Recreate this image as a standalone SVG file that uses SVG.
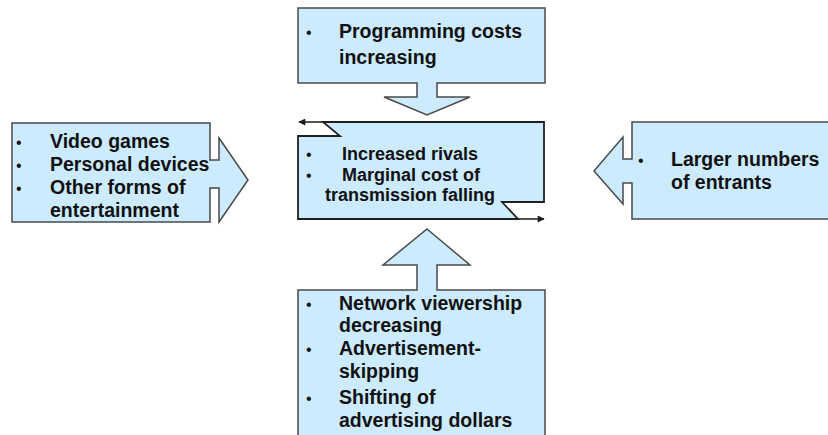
<svg xmlns="http://www.w3.org/2000/svg" width="828" height="435" viewBox="0 0 828 435">
  <defs>
    <marker id="tip" viewBox="0 0 10 10" refX="9" refY="5" markerWidth="8" markerHeight="7" markerUnits="userSpaceOnUse" orient="auto">
      <path d="M0,0 L10,5 L0,10 Z" fill="#1a1a1a"/>
    </marker>
  </defs>
  <style>
    .shape { fill: #CCEBFF; stroke: #4a4a4a; stroke-width: 1.5; stroke-linejoin: miter; }
    .core { fill: #CCEBFF; stroke: #1f1f1f; stroke-width: 1.8; }
    .txt { font-family: "Liberation Sans", Arial, sans-serif; font-weight: bold; font-size: 19.5px; fill: #111111; }
    .mid { font-size: 18px; text-anchor: middle; }
    .dot { font-family: "Liberation Sans", Arial, sans-serif; font-size: 16px; fill: #111111; }
    .link { fill: none; stroke: #1a1a1a; stroke-width: 1.5; }
  </style>
  <rect width="828" height="435" fill="#ffffff"/>

  <!-- upper driver, pointing down -->
  <g id="programming">
    <path class="shape" d="M298,8 H545 V83 H437 V97 H470 L427,115 L384,97 H417 V83 H298 Z"/>
    <text class="dot" x="306" y="38">•</text>
    <text class="txt" x="339" y="38">Programming costs</text>
    <text class="txt" x="339" y="64">increasing</text>
  </g>

  <!-- left driver, pointing right -->
  <g id="substitutes">
    <path class="shape" d="M12,123 H210 V160 H219 V138 L248,180 L219,222 V188 H210 V222 H12 Z"/>
    <text class="dot" x="16" y="148">•</text>
    <text class="txt" x="50" y="148">Video games</text>
    <text class="dot" x="16" y="171">•</text>
    <text class="txt" x="50" y="171">Personal devices</text>
    <text class="dot" x="16" y="194">•</text>
    <text class="txt" x="50" y="194">Other forms of</text>
    <text class="txt" x="50" y="217">entertainment</text>
  </g>

  <!-- central rivalry box -->
  <g id="rivalry">
    <path class="core" d="M323,122 H544 V202 H502 L518,219 H298 V136 H340 Z"/>
    <text class="dot" x="306" y="160">•</text>
    <text class="txt mid" x="410" y="160">Increased rivals</text>
    <text class="dot" x="306" y="181">•</text>
    <text class="txt mid" x="411" y="181">Marginal cost of</text>
    <text class="txt mid" x="410" y="201">transmission falling</text>
  </g>

  <!-- right driver, pointing left -->
  <g id="entrants">
    <path class="shape" d="M632,122 H840 V219 H632 V183 H623 V204 L594,171 L623,137 V159 H632 Z"/>
    <text class="dot" x="638" y="166">•</text>
    <text class="txt" x="671" y="166">Larger numbers</text>
    <text class="txt" x="671" y="189">of entrants</text>
  </g>

  <!-- lower driver, pointing up -->
  <g id="advertising">
    <path class="shape" d="M427,229 L470,265 H437 V290 H545 V450 H298 V290 H417 V265 H383 Z"/>
    <text class="dot" x="306" y="310">•</text>
    <text class="txt" x="339" y="310">Network viewership</text>
    <text class="txt" x="339" y="332">decreasing</text>
    <text class="dot" x="306" y="355">•</text>
    <text class="txt" x="339" y="355">Advertisement-</text>
    <text class="txt" x="339" y="378">skipping</text>
    <text class="dot" x="306" y="404">•</text>
    <text class="txt" x="339" y="404">Shifting of</text>
    <text class="txt" x="339" y="427">advertising dollars</text>
  </g>

  <!-- cycle arrows along the central box edges -->
  <g id="connectors">
    <path class="link" d="M323,122 H299" marker-end="url(#tip)"/>
    <path class="link" d="M518,219 H544" marker-end="url(#tip)"/>
  </g>
</svg>
